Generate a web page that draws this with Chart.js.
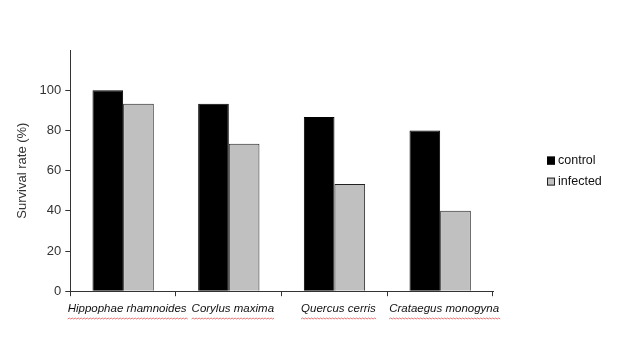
<!DOCTYPE html>
<html>
<head>
<meta charset="utf-8">
<script src="https://cdn.jsdelivr.net/npm/chart.js@4"></script>
<style>
  html, body { margin: 0; padding: 0; background: #fff; }
  #wrap { width: 620px; height: 339px; }
</style>
</head>
<body>
<div id="wrap"><canvas id="chart" width="620" height="339"></canvas></div>
<script>
const species = ["Hippophae rhamnoides", "Corylus maxima", "Quercus cerris", "Crataegus monogyna"];
const control = [100, 93.3, 86.7, 80];
const infected = [93.3, 73.3, 53.3, 40];
const yTicks = [0, 20, 40, 60, 80, 100];

const FONT = "'Liberation Sans', Arial, sans-serif";
const LABEL_SHIFT = 4;

// red spell-check squiggle under the species names
const squiggle = {
  id: "squiggle",
  afterDraw(chart) {
    const ctx = chart.ctx;
    const x = chart.scales.x;
    ctx.save();
    ctx.font = "italic 11.5px " + FONT;
    ctx.strokeStyle = "#e05050";
    ctx.lineWidth = 0.8;
    species.forEach((name, i) => {
      const w = ctx.measureText(name).width;
      const cx = x.getPixelForValue(i) + LABEL_SHIFT;
      let px = cx - w / 2;
      const y = 319;
      ctx.beginPath();
      ctx.moveTo(px, y);
      let up = true;
      while (px < cx + w / 2) {
        px += 1.5;
        ctx.lineTo(px, up ? y - 1 : y);
        up = !up;
      }
      ctx.stroke();
    });
    ctx.restore();
  }
};

// legend drawn off to the right, like the original
const sideLegend = {
  id: "sideLegend",
  afterDraw(chart) {
    const ctx = chart.ctx;
    const area = chart.chartArea;
    const left = area.right + 54;
    const mid = (area.top + area.bottom) / 2;
    ctx.save();
    ctx.font = "12.5px " + FONT;
    ctx.textBaseline = "middle";
    chart.data.datasets.forEach((ds, i) => {
      const y = mid - 10 + i * 21;
      ctx.fillStyle = ds.backgroundColor;
      ctx.fillRect(left, y - 4, 8, 8);
      ctx.strokeStyle = ds.borderColor;
      ctx.lineWidth = 1;
      ctx.strokeRect(left + 0.5, y - 3.5, 7, 7);
      ctx.fillStyle = "#111";
      ctx.fillText(ds.label, left + 11, y);
    });
    ctx.restore();
  }
};

new Chart(document.getElementById("chart"), {
  type: "bar",
  data: {
    labels: species,
    datasets: [
      {
        label: "control",
        data: control,
        backgroundColor: "#000000",
        borderColor: "#000000",
        borderWidth: 1
      },
      {
        label: "infected",
        data: infected,
        backgroundColor: "#c0c0c0",
        borderColor: "#222222",
        borderWidth: 1
      }
    ]
  },
  options: {
    responsive: false,
    animation: false,
    layout: { padding: { top: 50, right: 127, left: 11, bottom: 17 } },
    datasets: { bar: { categoryPercentage: 0.58, barPercentage: 1 } },
    plugins: {
      tooltip: { enabled: false },
      legend: { display: false }
    },
    scales: {
      x: {
        grid: {
          display: true,
          offset: true,
          drawOnChartArea: false,
          tickLength: 5,
          color: "#333"
        },
        border: { color: "#333", width: 1 },
        ticks: {
          color: "#111",
          padding: 6,
          maxRotation: 0,
          autoSkip: false,
          labelOffset: LABEL_SHIFT,
          font: { size: 11.5, style: "italic", family: FONT }
        }
      },
      y: {
        min: 0,
        max: 120,
        afterBuildTicks(axis) {
          axis.ticks = yTicks.concat([120]).map(v => ({ value: v }));
        },
        grid: {
          drawOnChartArea: false,
          tickLength: 5,
          color: ctx => (ctx.tick && ctx.tick.value === 120 ? "rgba(0,0,0,0)" : "#333")
        },
        border: { color: "#333", width: 1 },
        ticks: {
          color: "#333",
          padding: 4,
          font: { size: 13, family: FONT },
          callback: v => (v === 120 ? "" : v)
        },
        title: {
          display: true,
          text: "Survival rate (%)",
          color: "#333",
          padding: { bottom: 5 },
          font: { size: 13, family: FONT }
        }
      }
    }
  },
  plugins: [squiggle, sideLegend]
});
</script>
</body>
</html>
